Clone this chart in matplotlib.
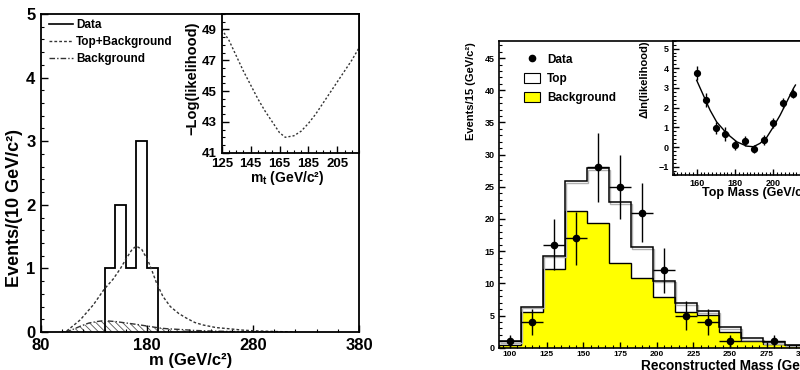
import numpy as np
import matplotlib
matplotlib.use("Agg")
import matplotlib.pyplot as plt
from matplotlib.ticker import MultipleLocator
from matplotlib.lines import Line2D
from matplotlib.patches import Patch
import matplotlib.transforms as mtransforms

plt.rcParams['font.family'] = ['Liberation Sans', 'DejaVu Sans']
plt.rcParams['font.weight'] = 'bold'
plt.rcParams['mathtext.fontset'] = 'custom'
plt.rcParams['mathtext.rm'] = 'Liberation Sans:bold'
plt.rcParams['mathtext.it'] = 'Liberation Sans:bold'
plt.rcParams['mathtext.bf'] = 'Liberation Sans:bold'
plt.rcParams['hatch.linewidth'] = 0.6

# ---------------- Left panel data ----------------
left_edges = [140, 150, 160, 170, 180, 190]
left_counts = [1, 2, 1, 3, 1]
left_xticks = [80, 180, 280, 380]

tb_m = [100, 103, 107.5, 117, 129.5, 139.5, 148, 155, 161, 166, 170, 175, 181, 185, 189, 195, 202, 210, 217, 225, 233, 245, 258, 270, 280, 300, 320]
tb_v = [0, 0.0, 0.06, 0.19, 0.43, 0.67, 0.83, 1.0, 1.17, 1.3, 1.35, 1.3, 1.12, 0.95, 0.77, 0.56, 0.40, 0.29, 0.22, 0.15, 0.11, 0.07, 0.05, 0.03, 0.02, 0.008, 0.0]

bg_m = [103, 110, 117, 125, 133, 139, 150, 161, 170, 180, 193, 200, 211, 224, 240, 260, 280, 300]
bg_v = [0, 0.04, 0.09, 0.14, 0.165, 0.178, 0.165, 0.14, 0.12, 0.094, 0.06, 0.05, 0.04, 0.025, 0.015, 0.008, 0.004, 0.0]

lik_m = [125, 130, 135, 140, 145, 150, 155, 160, 165, 169, 175, 180, 185, 190, 195, 200, 205, 210, 215, 220]
lik_v = [49.0, 48.3, 47.3, 46.3, 45.4, 44.5, 43.7, 43.0, 42.3, 42.0, 42.1, 42.4, 42.9, 43.5, 44.2, 44.9, 45.6, 46.3, 47.0, 47.8]
lik_xticks = [125, 145, 165, 185, 205]
lik_yticks = [41, 43, 45, 47, 49]

# ---------------- Right panel data ----------------
right_edges = [92.5, 107.5, 122.5, 137.5, 152.5, 167.5, 182.5, 197.5, 212.5, 227.5, 242.5, 257.5, 272.5, 287.5, 302.5, 317.5]
top_total = [1.0, 6.4, 14.3, 25.9, 27.9, 22.6, 15.6, 10.4, 6.9, 5.7, 3.2, 1.45, 0.85, 0.47, 0.3]
background = [0.4, 5.5, 12.3, 21.2, 19.4, 13.1, 10.9, 7.9, 5.6, 5.05, 2.5, 1.1, 0.6, 0.36, 0.2]

data_x = [100, 115, 130, 145, 160, 175, 190, 205, 220, 235, 250, 280]
data_y = [1, 4, 16, 17, 28, 25, 21, 12, 5, 4, 1, 1]
data_err = [1.0, 2.0, 4.0, 4.1, 5.3, 5.0, 4.6, 3.5, 2.2, 2.0, 1.0, 1.0]

ins_x = [160, 165, 170, 175, 180, 185, 190, 195, 200, 205, 210]
ins_y = [3.75, 2.4, 0.95, 0.68, 0.12, 0.3, -0.1, 0.35, 1.22, 2.22, 2.72]
ins_err = [0.35, 0.35, 0.3, 0.35, 0.25, 0.25, 0.2, 0.25, 0.25, 0.25, 0.25]
fit_x = [160, 163.5, 167, 170.4, 175.7, 180.9, 186.1, 189.6, 193, 196.5, 200, 203.5, 207, 210.4, 211.5]
fit_y = [3.39, 2.63, 1.87, 1.28, 0.69, 0.27, 0.05, 0.02, 0.19, 0.49, 1.03, 1.62, 2.3, 2.97, 3.15]

W, H = 800, 370
fig = plt.figure(figsize=(8, 3.7), dpi=100)

def px_axes(x0, y0, x1, y1):
    return fig.add_axes([x0 / W, (H - y1) / H, (x1 - x0) / W, (y1 - y0) / H])

def style(ax, lw=1.3):
    for s in ax.spines.values():
        s.set_linewidth(lw)
    ax.tick_params(which='both', direction='in', top=False, right=False)
    ax.tick_params(which='major', length=5, width=1)
    ax.tick_params(which='minor', length=2.5, width=0.8)

# ---- Left main ----
axL = px_axes(41, 14, 359, 332)
style(axL)
axL.set_xlim(80, 380)
axL.set_ylim(0, 5)
axL.set_xticks(left_xticks)
axL.xaxis.set_minor_locator(MultipleLocator(20))
axL.yaxis.set_major_locator(MultipleLocator(1))
axL.yaxis.set_minor_locator(MultipleLocator(0.2))
axL.tick_params(labelsize=12, pad=4)

axL.fill_between(bg_m, bg_v, 0, facecolor='none', edgecolor='#555555', hatch='\\\\\\\\\\', linewidth=0)
axL.plot(bg_m, bg_v, color='#333333', lw=1, dashes=(4, 1.5, 1, 1.5))
axL.plot(tb_m, tb_v, color='#333333', lw=1, dashes=(2, 1.5))
axL.stairs(left_counts, left_edges, baseline=0, color='black', lw=1.3)

axL.set_xlabel('m (GeV/c²)', fontsize=12, fontweight='bold', va='center')
axL.xaxis.set_label_coords(0.47, -0.09)
axL.set_ylabel('Events/(10 GeV/c²)', fontsize=13, fontweight='bold', va='center')
axL.yaxis.set_label_coords(-0.082, 0.39)

hL = [Line2D([], [], color='black', lw=1.2),
      Line2D([], [], color='#333333', lw=1, dashes=(2, 1.5)),
      Line2D([], [], color='#333333', lw=1, dashes=(4, 1.5, 1, 1.5))]
axL.legend(hL, ['Data', 'Top+Background', 'Background'], loc='upper left',
           bbox_to_anchor=(0.025, 0.985), frameon=False, fontsize=8.5,
           handlelength=2.0, handletextpad=0.3, labelspacing=0.45, borderpad=0,
           borderaxespad=0)

# ---- Left inset ----
axLi = px_axes(221.7, 14, 359, 152.7)
style(axLi)
axLi.set_xlim(125, 220)
axLi.set_ylim(41, 50)
axLi.set_xticks(lik_xticks)
axLi.xaxis.set_minor_locator(MultipleLocator(5))
axLi.set_yticks(lik_yticks)
axLi.yaxis.set_minor_locator(MultipleLocator(0.5))
axLi.tick_params(labelsize=9.5, pad=3.5)
axLi.plot(lik_m, lik_v, color='#333333', lw=1, dashes=(1.5, 1.5))
axLi.set_xlabel('m$_t$ (GeV/c²)', fontsize=10, fontweight='bold', va='center')
axLi.xaxis.set_label_coords(0.48, -0.185)
axLi.set_ylabel('−Log(likelihood)', fontsize=10.5, fontweight='bold', va='center')
axLi.yaxis.set_label_coords(-0.21, 0.54)

# ---- Right main ----
axR = px_axes(499, 40.7, 829, 347.7)
style(axR, lw=1.2)
axR.set_xlim(92.5, 317.5)
axR.set_ylim(0, 47.7)
axR.xaxis.set_major_locator(MultipleLocator(25))
axR.xaxis.set_minor_locator(MultipleLocator(5))
axR.yaxis.set_major_locator(MultipleLocator(5))
axR.yaxis.set_minor_locator(MultipleLocator(1))
axR.tick_params(labelsize=6.5, pad=3)
axR.tick_params(axis='x', labelsize=6, pad=2.5)
axR.tick_params(which='major', length=4)
axR.tick_params(which='minor', length=2)

axR.stairs(background, right_edges, baseline=0, fill=True, facecolor='#ffff00',
           edgecolor='black', lw=1.0)
shadow = mtransforms.offset_copy(axR.transData, fig=fig, x=1.0, y=-1.5, units='dots')
axR.stairs(top_total, right_edges, baseline=None, color='#b0b0b0', lw=1.0, transform=shadow)
axR.stairs(top_total, right_edges, baseline=None, color='black', lw=1.1)
axR.errorbar(data_x, data_y, yerr=data_err, xerr=7.5, fmt='o', color='black',
             ms=4.5, elinewidth=1, capsize=0)

axR.set_xlabel('Reconstructed Mass (GeV/c²)', fontsize=9.8, fontweight='bold', ha='right', va='top')
axR.xaxis.set_label_coords(1.0, -0.036)
axR.set_ylabel('Events/15 (GeV/c²)', fontsize=8, fontweight='bold', ha='right', va='center')
axR.yaxis.set_label_coords(-0.085, 0.995)

hR = [Line2D([], [], color='black', marker='o', ls='none', ms=4.5),
      Patch(facecolor='white', edgecolor='black', lw=0.8),
      Patch(facecolor='#ffff00', edgecolor='black', lw=0.8)]
axR.legend(hR, ['Data', 'Top', 'Background'], loc='upper left',
           bbox_to_anchor=(0.075, 0.957), frameon=False, fontsize=8.5,
           handlelength=1.4, handleheight=0.9, handletextpad=0.6,
           labelspacing=0.6, borderpad=0, borderaxespad=0)

# ---- Right inset ----
axRi = px_axes(672.7, 40.7, 829, 174.7)
style(axRi, lw=1.2)
axRi.set_xlim(147.5, 229)
axRi.set_ylim(-1.4, 5.4)
axRi.xaxis.set_major_locator(MultipleLocator(20))
axRi.xaxis.set_minor_locator(MultipleLocator(2))
axRi.yaxis.set_major_locator(MultipleLocator(1))
axRi.yaxis.set_minor_locator(MultipleLocator(0.2))
axRi.tick_params(labelsize=6.5, pad=3)
axRi.tick_params(which='major', length=4)
axRi.tick_params(which='minor', length=2)
axRi.plot(fit_x, fit_y, color='black', lw=1)
axRi.errorbar(ins_x, ins_y, yerr=ins_err, xerr=1.6, fmt='o', color='black',
              ms=4.2, elinewidth=1, capsize=0)
axRi.set_xlabel('Top Mass (GeV/c²)', fontsize=9, fontweight='bold', ha='left', va='center')
axRi.xaxis.set_label_coords(0.19, -0.135)
axRi.set_ylabel('Δln(likelihood)', fontsize=8, fontweight='bold', ha='right', va='center')
axRi.yaxis.set_label_coords(-0.18, 1.0)

fig.savefig('out.png', dpi=100)
